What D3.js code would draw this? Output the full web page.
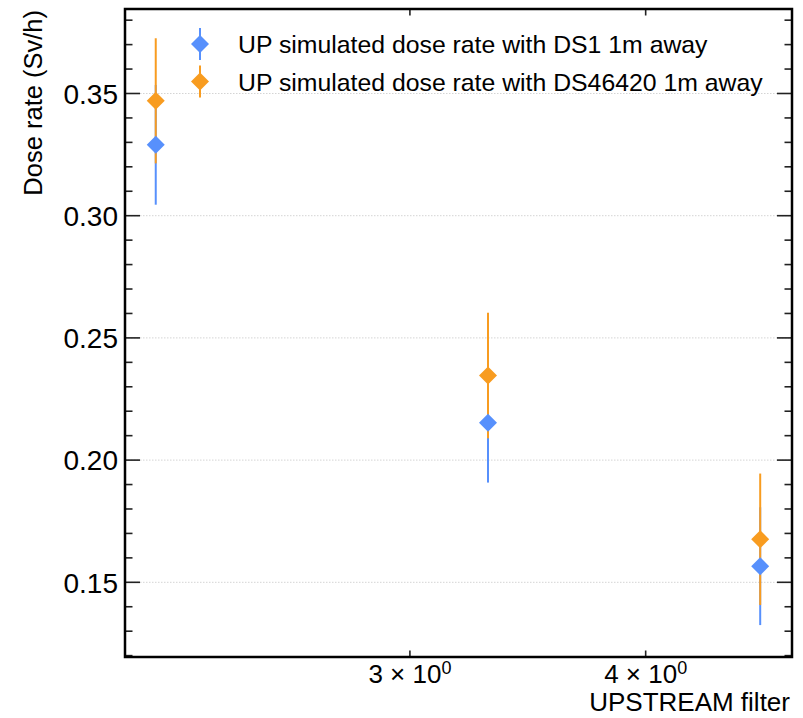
<!DOCTYPE html>
<head>
    <script src="https://cdn.jsdelivr.net/npm/d3@7"></script>
    <style>
        body { margin: 0; background: #fff; }
        svg text { font-family: "Liberation Sans", Arial, sans-serif; fill: #000; }
    </style>
</head>
<body>
<div>
    <svg width="803" height="718"></svg>
</div>
<script type="text/javascript">
    var svg = d3.select("svg");

    // data
    var filters = [2.2, 3.3, 4.6];
    var seriesNames = ["UP simulated dose rate with DS1 1m away",
        "UP simulated dose rate with DS46420 1m away"];
    var doseDS1 = [0.329, 0.2153, 0.1566];
    var errDS1 = [0.0245, 0.0245, 0.0241];
    var doseDS46420 = [0.347, 0.2346, 0.1676];
    var errDS46420 = [0.0256, 0.0257, 0.0269];
    var yMajorTicks = [0.15, 0.20, 0.25, 0.30, 0.35];
    var xTicks = [3, 4];
    var xTickLabels = ["3", "4"];

    var colors = ["#5790fc", "#f89c20"];
    // note: "top" is taken by window.top, so use plot* names
    var plotL = 125, plotR = 792, plotT = 9, plotB = 657;

    var xScale = d3.scaleLog()
            .domain([2.119, 4.782])
            .range([plotL, plotR]);
    var yScale = d3.scaleLinear()
            .domain([0.11944, 0.38457])
            .range([plotB, plotT]);

    var series = [
        {name: seriesNames[0], values: doseDS1, errs: errDS1, color: colors[0]},
        {name: seriesNames[1], values: doseDS46420, errs: errDS46420, color: colors[1]}
    ];

    // grid
    svg.append("g").selectAll("line")
            .data(yMajorTicks)
            .enter()
            .append("line")
            .attr("x1", plotL)
            .attr("x2", plotR)
            .attr("y1", function (d) { return yScale(d); })
            .attr("y2", function (d) { return yScale(d); })
            .attr("stroke", "#d4d4d4")
            .attr("stroke-width", 1)
            .attr("stroke-dasharray", "1.5,1.5");

    // minor y ticks every 0.01
    var yMinor = d3.range(12, 39).map(function (i) { return i / 100; })
            .filter(function (v) { return Math.round(v * 100) % 5 !== 0; });

    var tickG = svg.append("g").attr("stroke", "#222").attr("stroke-width", 1.6);
    [[plotL, 1], [plotR, -1]].forEach(function (side) {
        tickG.selectAll(null)
                .data(yMajorTicks)
                .enter()
                .append("line")
                .attr("x1", side[0])
                .attr("x2", side[0] + side[1] * 15)
                .attr("y1", function (d) { return yScale(d); })
                .attr("y2", function (d) { return yScale(d); });
        tickG.selectAll(null)
                .data(yMinor)
                .enter()
                .append("line")
                .attr("x1", side[0])
                .attr("x2", side[0] + side[1] * 7.5)
                .attr("y1", function (d) { return yScale(d); })
                .attr("y2", function (d) { return yScale(d); });
    });
    [[plotB, -1], [plotT, 1]].forEach(function (side) {
        tickG.selectAll(null)
                .data(xTicks)
                .enter()
                .append("line")
                .attr("x1", function (d) { return xScale(d); })
                .attr("x2", function (d) { return xScale(d); })
                .attr("y1", side[0])
                .attr("y2", side[0] + side[1] * 6.5);
    });

    // y tick labels
    svg.append("g").selectAll("text")
            .data(yMajorTicks)
            .enter()
            .append("text")
            .attr("x", 118)
            .attr("y", function (d) { return yScale(d) + 10.3; })
            .attr("text-anchor", "end")
            .style("font-size", "28px")
            .text(function (d) { return d3.format(".2f")(d); });

    // x tick labels "3 × 10^0"
    var xl = svg.append("g").selectAll("text")
            .data(xTicks)
            .enter()
            .append("text")
            .attr("x", function (d) { return xScale(d); })
            .attr("y", 683)
            .attr("text-anchor", "middle")
            .style("font-size", "26px");
    xl.append("tspan").text(function (d, i) { return xTickLabels[i] + " \u00d7 10"; });
    xl.append("tspan")
            .attr("dy", -9)
            .style("font-size", "18px")
            .text("0");

    // axis titles
    svg.append("text")
            .attr("x", 790)
            .attr("y", 711)
            .attr("text-anchor", "end")
            .style("font-size", "26px")
            .text("UPSTREAM filter");
    svg.append("text")
            .attr("transform", "translate(41.5,10) rotate(-90)")
            .attr("text-anchor", "end")
            .style("font-size", "25.5px")
            .text("Dose rate (Sv/h)");

    // error bars first, markers on top
    var diamond = d3.symbol().type(d3.symbolSquare).size(162);
    series.forEach(function (s) {
        svg.append("g").selectAll("line")
                .data(s.values)
                .enter()
                .append("line")
                .attr("x1", function (d, i) { return xScale(filters[i]); })
                .attr("x2", function (d, i) { return xScale(filters[i]); })
                .attr("y1", function (d, i) { return yScale(d - s.errs[i]); })
                .attr("y2", function (d, i) { return yScale(d + s.errs[i]); })
                .attr("stroke", s.color)
                .attr("stroke-width", 2);
    });
    series.forEach(function (s) {
        svg.append("g").selectAll("path")
                .data(s.values)
                .enter()
                .append("path")
                .attr("d", diamond)
                .attr("transform", function (d, i) {
                    return "translate(" + xScale(filters[i]) + "," + yScale(d) + ") rotate(45)";
                })
                .attr("fill", s.color);
    });

    // legend
    var legend = svg.append("g").selectAll("g")
            .data(series)
            .enter()
            .append("g")
            .attr("transform", function (d, i) { return "translate(200," + (44 + i * 37.5) + ")"; });
    legend.append("line")
            .attr("y1", -16)
            .attr("y2", 16)
            .attr("stroke", function (d) { return d.color; })
            .attr("stroke-width", 2);
    legend.append("path")
            .attr("d", diamond)
            .attr("transform", "rotate(45)")
            .attr("fill", function (d) { return d.color; });
    legend.append("text")
            .attr("x", 38)
            .attr("y", 9)
            .style("font-size", "24.8px")
            .text(function (d) { return d.name; });

    // frame
    svg.append("rect")
            .attr("x", plotL)
            .attr("y", plotT)
            .attr("width", plotR - plotL)
            .attr("height", plotB - plotT)
            .attr("fill", "none")
            .attr("stroke", "#000")
            .attr("stroke-width", 2.5);
</script>
</body>
</html>
